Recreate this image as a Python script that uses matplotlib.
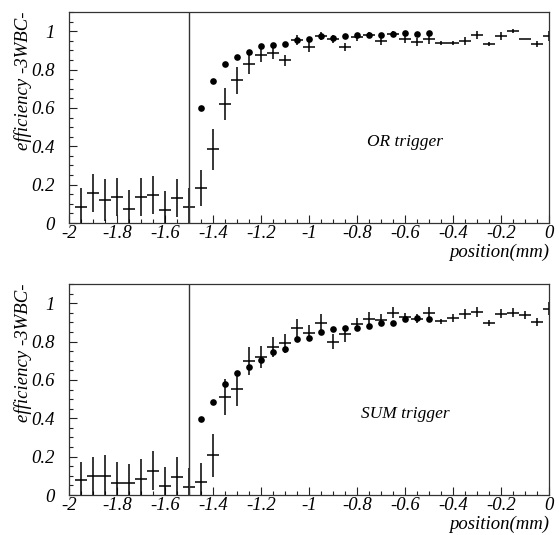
import matplotlib
matplotlib.use("Agg")
import matplotlib.pyplot as plt
from matplotlib.ticker import MultipleLocator, FuncFormatter

# bin centres (mm) for the scan points
positions = [-1.95, -1.90, -1.85, -1.80, -1.75, -1.70, -1.65, -1.60, -1.55, -1.50,
             -1.45, -1.40, -1.35, -1.30, -1.25, -1.20, -1.15, -1.10, -1.05, -1.00,
             -0.95, -0.90, -0.85, -0.80, -0.75, -0.70, -0.65, -0.60, -0.55, -0.50,
             -0.45, -0.40, -0.35, -0.30, -0.25, -0.20, -0.15, -0.10, -0.05, 0.00]
dot_positions = positions[10:30]

# OR trigger: measured efficiency with errors, and reference points
or_eff = [0.085, 0.158, 0.120, 0.137, 0.071, 0.134, 0.146, 0.068, 0.130, 0.082,
          0.182, 0.384, 0.619, 0.743, 0.827, 0.874, 0.885, 0.848, 0.953, 0.918,
          0.976, 0.958, 0.918, 0.970, 0.979, 0.950, 0.984, 0.957, 0.944, 0.957,
          0.939, 0.939, 0.950, 0.979, 0.931, 0.976, 1.000, 0.958, 0.932, 0.976]
or_err = [0.096, 0.100, 0.110, 0.100, 0.100, 0.100, 0.100, 0.100, 0.100, 0.100,
          0.095, 0.106, 0.083, 0.068, 0.048, 0.037, 0.030, 0.028, 0.025, 0.025,
          0.022, 0.020, 0.020, 0.020, 0.015, 0.020, 0.015, 0.020, 0.020, 0.025,
          0.010, 0.010, 0.020, 0.020, 0.010, 0.020, 0.010, 0.000, 0.015, 0.025]
or_ref = [0.597, 0.741, 0.830, 0.865, 0.889, 0.925, 0.930, 0.934, 0.953, 0.958,
          0.976, 0.962, 0.976, 0.981, 0.981, 0.979, 0.984, 0.988, 0.986, 0.991]

# SUM trigger
sum_eff = [0.077, 0.100, 0.097, 0.064, 0.061, 0.085, 0.127, 0.047, 0.096, 0.040,
           0.068, 0.206, 0.510, 0.552, 0.699, 0.720, 0.773, 0.791, 0.870, 0.847,
           0.899, 0.800, 0.838, 0.890, 0.917, 0.913, 0.951, 0.929, 0.920, 0.951,
           0.905, 0.922, 0.943, 0.955, 0.896, 0.946, 0.951, 0.939, 0.903, 0.972]
sum_err = [0.097, 0.100, 0.110, 0.108, 0.100, 0.105, 0.100, 0.100, 0.100, 0.100,
           0.100, 0.110, 0.095, 0.090, 0.072, 0.058, 0.052, 0.050, 0.048, 0.040,
           0.047, 0.040, 0.040, 0.035, 0.035, 0.030, 0.030, 0.020, 0.025, 0.030,
           0.015, 0.020, 0.025, 0.025, 0.015, 0.025, 0.025, 0.020, 0.020, 0.035]
sum_ref = [0.395, 0.487, 0.577, 0.638, 0.668, 0.706, 0.746, 0.762, 0.812, 0.821,
           0.850, 0.864, 0.870, 0.873, 0.882, 0.896, 0.899, 0.920, 0.925, 0.917]

panels = [("OR trigger", or_eff, or_err, or_ref),
          ("SUM trigger", sum_eff, sum_err, sum_ref)]

bin_half = 0.025
cut_position = -1.5

FONT = ["Liberation Serif", "DejaVu Serif"]
W, H = 559, 535
fig = plt.figure(figsize=(W / 100, H / 100), dpi=100)

# axes boxes in pixels: (left, top, right, bottom)
boxes = [(69, 12, 549, 223), (69, 284, 549, 495)]


def fmt(v, _):
    if abs(v) < 1e-9:
        return "0"
    s = f"{v:.1f}"
    if s.endswith(".0"):
        s = s[:-2]
    return s


for (label, eff, err, ref), (l, t, r, b) in zip(panels, boxes):
    ax = fig.add_axes([l / W, 1 - b / H, (r - l) / W, (b - t) / H])
    ax.set_xlim(-2, 0)
    ax.set_ylim(0, 1.1)

    ax.errorbar(positions, eff, xerr=bin_half, yerr=err, fmt="none",
                ecolor="black", elinewidth=1.1, capsize=0, clip_on=True)
    ax.plot(dot_positions, ref, "o", color="black", markersize=4.8,
            markeredgewidth=0)
    ax.axvline(cut_position, color="#333333", lw=1.0)

    ax.text(-0.6, 0.42, label, ha="center", va="center", fontsize=12.5,
            style="italic", family=FONT)

    ax.xaxis.set_major_locator(MultipleLocator(0.2))
    ax.xaxis.set_minor_locator(MultipleLocator(0.05))
    ax.yaxis.set_major_locator(MultipleLocator(0.2))
    ax.yaxis.set_minor_locator(MultipleLocator(0.05))
    ax.xaxis.set_major_formatter(FuncFormatter(fmt))
    ax.yaxis.set_major_formatter(FuncFormatter(fmt))
    ax.tick_params(which="both", direction="in", top=False, right=False,
                   color="#222222", width=0.8)
    ax.tick_params(which="major", length=6)
    ax.tick_params(which="minor", length=3)
    ax.tick_params(axis="x", pad=1.5)
    ax.tick_params(axis="y", pad=10)
    for lab in ax.get_xticklabels() + ax.get_yticklabels():
        lab.set_fontfamily(FONT)
        lab.set_fontstyle("italic")
        lab.set_fontsize(13.5)
    for sp in ax.spines.values():
        sp.set_linewidth(0.9)
        sp.set_color("#333333")

    fig.text(23 / W, 1 - t / H, "efficiency -3WBC-", rotation=90,
             ha="center", va="top", fontsize=13.5, style="italic", family=FONT)
    fig.text(r / W, 1 - (b + 21) / H, "position(mm)", ha="right", va="top",
             fontsize=13.5, style="italic", family=FONT)

fig.savefig("out.png", dpi=100)
